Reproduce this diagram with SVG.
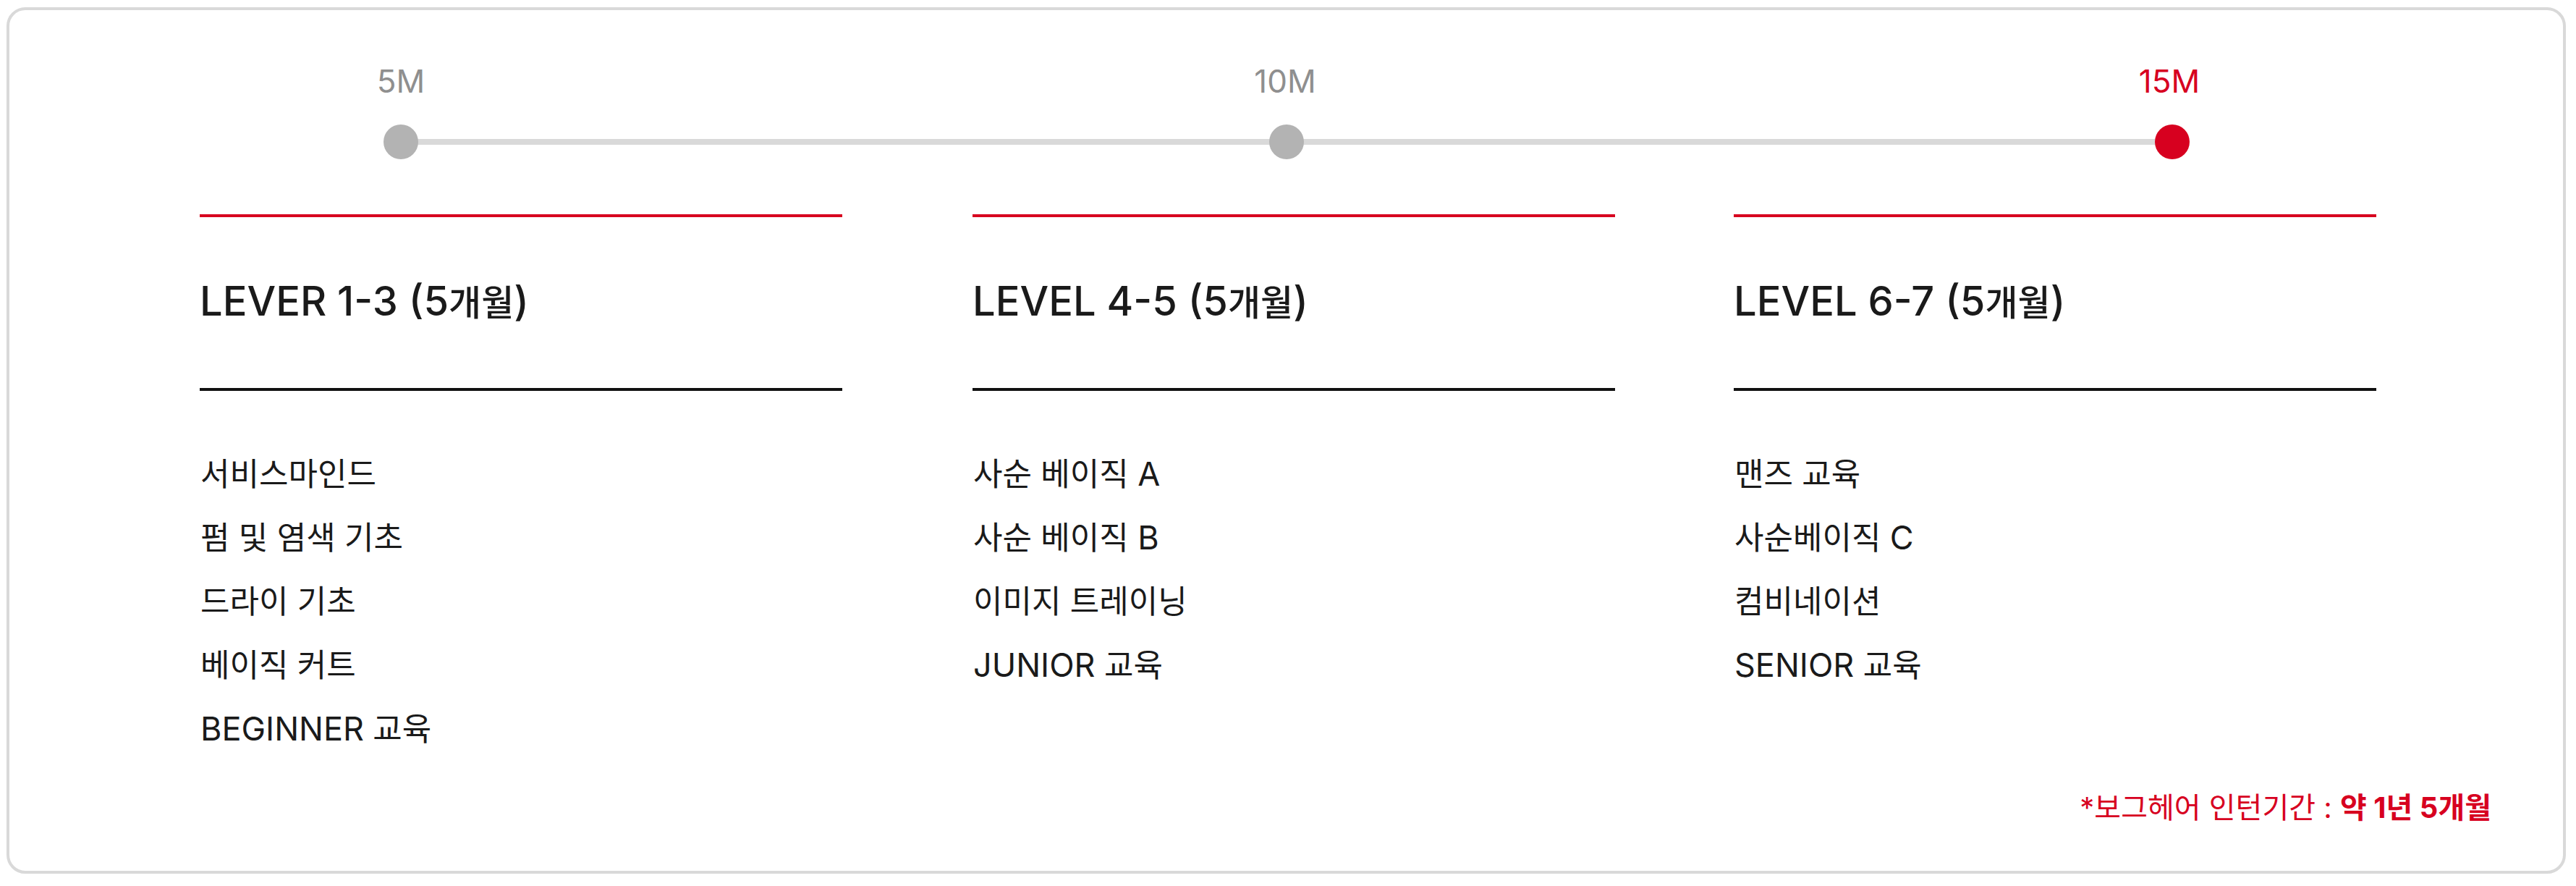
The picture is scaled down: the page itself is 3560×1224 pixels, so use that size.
<svg xmlns="http://www.w3.org/2000/svg" width="3560" height="1224" viewBox="0 0 3560 1224">
  <style>
    .t { font-family: Inter, "Noto Sans CJK KR", sans-serif; }
    .mk { font-size: 44px; fill: #8f8f8f; text-anchor: middle; }
    .mk.on { fill: #d7001f; }
    .ttl { font-size: 56px; font-weight: 500; fill: #1a1a1a; }
    .ttl .k { font-size: 49px; }
    .it { font-size: 44px; fill: #1a1a1a; }
    .it .l { font-size: 45px; }
    .note { font-size: 40px; fill: #d7001f; text-anchor: end; }
    .note .b { font-weight: 700; }
    .red { stroke: #d7001f; stroke-width: 4; }
    .blk { stroke: #111111; stroke-width: 4; }
  </style>
  <rect x="0" y="0" width="3560" height="1224" fill="#ffffff"/>
  <rect id="frame" x="11" y="12" width="3533" height="1193" rx="24" ry="24" fill="#ffffff" stroke="#d9d9d9" stroke-width="4"/>

  <g id="connectors">
    <line x1="554" y1="196" x2="3002" y2="196" stroke="#d9d9d9" stroke-width="8"/>
  </g>

  <g id="m5">
    <text class="t mk" x="554" y="128">5M</text>
    <circle cx="554" cy="196" r="24" fill="#b3b3b3"/>
  </g>
  <g id="m10">
    <text class="t mk" x="1776" y="128">10M</text>
    <circle cx="1778" cy="196" r="24" fill="#b3b3b3"/>
  </g>
  <g id="m15">
    <text class="t mk on" x="2998" y="128">15M</text>
    <circle cx="3002" cy="196" r="24" fill="#d7001f"/>
  </g>

  <g id="level1-3">
    <line class="red" x1="276" y1="298" x2="1164" y2="298"/>
    <text class="t ttl" x="276" y="436">LEVER 1-3 (5<tspan class="k">개월</tspan>)</text>
    <line class="blk" x1="276" y1="538" x2="1164" y2="538"/>
    <text class="t it" x="277" y="671">서비스마인드</text>
    <text class="t it" x="277" y="759">펌 및 염색 기초</text>
    <text class="t it" x="277" y="847">드라이 기초</text>
    <text class="t it" x="277" y="935">베이직 커트</text>
    <text class="t it" x="277" y="1023"><tspan class="l">BEGINNER</tspan> 교육</text>
  </g>

  <g id="level4-5">
    <line class="red" x1="1344" y1="298" x2="2232" y2="298"/>
    <text class="t ttl" x="1344" y="436">LEVEL 4-5 (5<tspan class="k">개월</tspan>)</text>
    <line class="blk" x1="1344" y1="538" x2="2232" y2="538"/>
    <text class="t it" x="1345" y="671">사순 베이직 <tspan class="l">A</tspan></text>
    <text class="t it" x="1345" y="759">사순 베이직 <tspan class="l">B</tspan></text>
    <text class="t it" x="1345" y="847">이미지 트레이닝</text>
    <text class="t it" x="1345" y="935"><tspan class="l">JUNIOR</tspan> 교육</text>
  </g>

  <g id="level6-7">
    <line class="red" x1="2396" y1="298" x2="3284" y2="298"/>
    <text class="t ttl" x="2396" y="436">LEVEL 6-7 (5<tspan class="k">개월</tspan>)</text>
    <line class="blk" x1="2396" y1="538" x2="3284" y2="538"/>
    <text class="t it" x="2397" y="671">맨즈 교육</text>
    <text class="t it" x="2397" y="759">사순베이직 <tspan class="l">C</tspan></text>
    <text class="t it" x="2397" y="847">컴비네이션</text>
    <text class="t it" x="2397" y="935"><tspan class="l">SENIOR</tspan> 교육</text>
  </g>

  <g id="note">
    <text class="t note" x="3443" y="1130">*보그헤어 인턴기간 : <tspan class="b">약 1년 5개월</tspan></text>
  </g>
</svg>
